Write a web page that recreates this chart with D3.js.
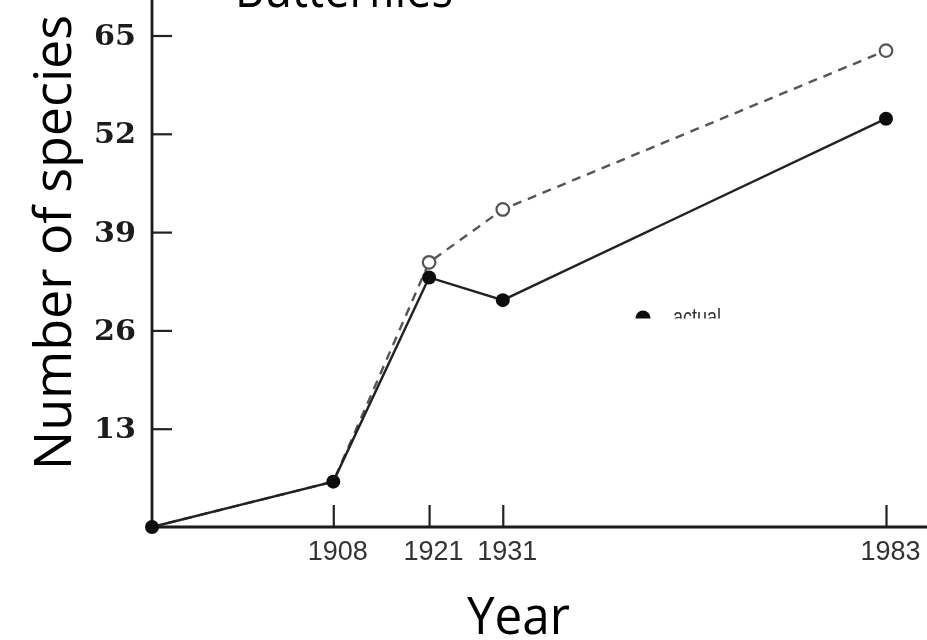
<!DOCTYPE html>
<html>
<head>
<meta charset="utf-8">
<script src="https://cdn.jsdelivr.net/npm/d3@7/dist/d3.min.js"></script>
<style>
  html, body { margin: 0; padding: 0; background: #fff; }
  svg { display: block; }
</style>
</head>
<body>
<svg id="chart" width="927" height="640"></svg>
<script>
// Survey years (the first entry is the axis origin) and species counts
const years = [1883.4, 1908, 1921, 1931, 1983];
const actualCounts = [0, 6, 33, 30, 54];
const expectedCounts = [0, 6, 35, 42, 63];
const yTickValues = [13, 26, 39, 52, 65];
const xTickValues = [1908, 1921, 1931, 1983];

const svg = d3.select("#chart");
const W = 927, H = 640;

const x = d3.scaleLinear().domain([years[0], 1983]).range([152, 886]);
const y = d3.scaleLinear().domain([0, 65]).range([527, 35.5]);

// soft scan look for the printed figure
const defs = svg.append("defs");
defs.append("filter").attr("id", "soft")
  .append("feGaussianBlur").attr("stdDeviation", 0.55);
defs.append("clipPath").attr("id", "legendClip")
  .append("rect").attr("x", 600).attr("y", 280).attr("width", 200).attr("height", 38.5);

const fig = svg.append("g").attr("filter", "url(#soft)");

// y axis: ticks pointing inward, bold serif numerals
const yAxis = d3.axisLeft(y).tickValues(yTickValues).tickSizeInner(-20).tickSizeOuter(0).tickPadding(16);
const yg = fig.append("g").attr("transform", `translate(${x.range()[0]},0)`).call(yAxis);
yg.select(".domain").remove();
yg.selectAll(".tick line").attr("stroke", "#222").attr("stroke-width", 2.2);
yg.selectAll(".tick text")
  .attr("font-family", "'DejaVu Serif', serif")
  .attr("font-weight", "bold")
  .attr("font-size", 28)
  .attr("textLength", 42)
  .attr("lengthAdjust", "spacingAndGlyphs")
  .attr("fill", "#1a1a1a");

// x axis: ticks pointing upward
const xAxis = d3.axisBottom(x).tickValues(xTickValues).tickFormat(d3.format("d"))
  .tickSizeInner(-22).tickSizeOuter(0).tickPadding(14);
const xg = fig.append("g").attr("transform", `translate(0,${y(0)})`).call(xAxis);
xg.select(".domain").remove();
xg.selectAll(".tick line").attr("stroke", "#222").attr("stroke-width", 2.2);
xg.selectAll(".tick text")
  .attr("font-family", "'Liberation Sans', Arial, sans-serif")
  .attr("font-size", 27)
  .attr("dx", 4)
  .attr("fill", "#333");

// axis lines
fig.append("line")
  .attr("x1", x.range()[0]).attr("x2", x.range()[0])
  .attr("y1", 0).attr("y2", y(0))
  .attr("stroke", "#1a1a1a").attr("stroke-width", 2.8);
fig.append("line")
  .attr("x1", x.range()[0]).attr("x2", W)
  .attr("y1", y(0)).attr("y2", y(0))
  .attr("stroke", "#1a1a1a").attr("stroke-width", 2.8);

const expected = years.map((yr, i) => ({ yr, v: expectedCounts[i] }));
const actual = years.map((yr, i) => ({ yr, v: actualCounts[i] }));
const line = d3.line().x(d => x(d.yr)).y(d => y(d.v));

// expected (dashed, open circles)
fig.append("path").datum(expected)
  .attr("d", line)
  .attr("fill", "none")
  .attr("stroke", "#555")
  .attr("stroke-width", 2.4)
  .attr("stroke-dasharray", "9,7");

// actual (solid, filled circles)
fig.append("path").datum(actual)
  .attr("d", line)
  .attr("fill", "none")
  .attr("stroke", "#222")
  .attr("stroke-width", 2.4);

fig.selectAll("circle.exp").data(expected.slice(2)).join("circle")
  .attr("class", "exp")
  .attr("cx", d => x(d.yr)).attr("cy", d => y(d.v))
  .attr("r", 6.3)
  .attr("fill", "#fff")
  .attr("stroke", "#555")
  .attr("stroke-width", 2.2);

fig.selectAll("circle.act").data(actual).join("circle")
  .attr("class", "act")
  .attr("cx", d => x(d.yr)).attr("cy", d => y(d.v))
  .attr("r", 7)
  .attr("fill", "#111");

// legend (lower part hidden)
const legend = fig.append("g").attr("clip-path", "url(#legendClip)");
legend.append("circle").attr("cx", 643).attr("cy", 318).attr("r", 7.5).attr("fill", "#111");
legend.append("text")
  .attr("x", 673).attr("y", 325)
  .attr("font-family", "'Liberation Sans', Arial, sans-serif")
  .attr("font-size", 24)
  .attr("textLength", 48)
  .attr("lengthAdjust", "spacingAndGlyphs")
  .attr("fill", "#333")
  .text("actual");

// overlay titles
const label = (t) => svg.append("text")
  .attr("font-family", "'Open Sans', 'Noto Sans', sans-serif")
  .attr("font-size", 51)
  .attr("fill", "#000")
  .attr("lengthAdjust", "spacingAndGlyphs")
  .text(t);

label("Butterflies").attr("x", 235).attr("y", 7).attr("textLength", 218);
label("Year").attr("x", 467).attr("y", 634).attr("textLength", 103);
label("Number of species")
  .attr("transform", "translate(71,470) rotate(-90)")
  .attr("textLength", 455);
</script>
</body>
</html>
